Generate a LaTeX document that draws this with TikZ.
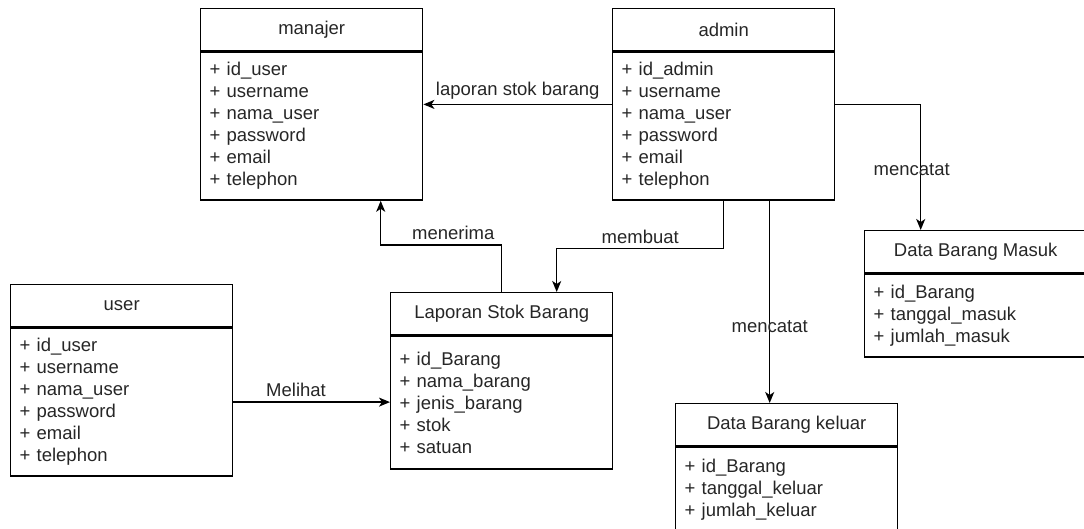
\documentclass[tikz,border=0pt]{standalone}
\usepackage{fontspec}
\setmainfont{Liberation Sans}
\usetikzlibrary{arrows.meta}

\tikzset{
  every node/.style={font=\fontsize{18.5}{22}\selectfont, text=black!85},
  classhead/.style={draw, line width=1.4pt, minimum width=222pt, minimum height=42pt, inner sep=0pt, anchor=north west},
  classbody/.style={draw, line width=1.4pt, text width=204pt, inner xsep=9pt, inner ysep=0pt, align=left, anchor=north west},
  link/.style={line width=1.4pt, -{Stealth[length=11pt,width=9pt,inset=3pt]}},
}

\begin{document}
\begin{tikzpicture}[x=1pt,y=-1pt]
  \useasboundingbox (0,0) rectangle (1084,529);
  \clip (0,0) rectangle (1084,529);

  % manajer and admin
  \node[classhead] (manajer) at (200,8) {manajer};
  \node[classbody, minimum height=148pt] (manajer-b) at (manajer.south west)
    {+ id\_user\\+ username\\+ nama\_user\\+ password\\+ email\\+ telephon};
  \node[classhead] (admin) at (612,8) {admin};
  \node[classbody, minimum height=148pt] (admin-b) at (admin.south west)
    {+ id\_admin\\+ username\\+ nama\_user\\+ password\\+ email\\+ telephon};

  % user and laporan
  \node[classhead] (user) at (10,284) {user};
  \node[classbody, minimum height=148pt] (user-b) at (user.south west)
    {+ id\_user\\+ username\\+ nama\_user\\+ password\\+ email\\+ telephon};
  \node[classhead] (laporan) at (390,292) {Laporan Stok Barang};
  \node[classbody, minimum height=133pt] (laporan-b) at (laporan.south west)
    {+ id\_Barang\\+ nama\_barang\\+ jenis\_barang\\+ stok\\+ satuan};

  % data barang
  \node[classhead] (keluar) at (675,403) {Data Barang keluar};
  \node[classbody, minimum height=86pt] (keluar-b) at (keluar.south west)
    {+ id\_Barang\\+ tanggal\_keluar\\+ jumlah\_keluar};
  \node[classhead] (masuk) at (864,230) {Data Barang Masuk};
  \node[classbody, minimum height=83pt] (masuk-b) at (masuk.south west)
    {+ id\_Barang\\+ tanggal\_masuk\\+ jumlah\_masuk};

  % draw connectors
  \draw[link] ([yshift=-53pt]admin-b.north west) -- ([yshift=-53pt]manajer-b.north east)
    node[midway, above=1pt] {laporan stok barang};
  \draw[link] (laporan.north) -- ++(0,-47) -| ([xshift=69pt]manajer-b.south)
    node[pos=0.2, above=1pt] {menerima};
  \draw[link] (admin-b.south) -- ++(0,48) -| ([xshift=55pt]laporan.north)
    node[pos=0.25, above=1pt] {membuat};
  \draw[link] ([xshift=46pt]admin-b.south) -- ([xshift=-17pt]keluar.north)
    node[pos=0.62] {mencatat};
  \draw[link] ([yshift=-53pt]admin-b.north east) -| ([xshift=-55pt]masuk.north)
    node[pos=0.76, xshift=-9pt] {mencatat};
  \draw[link] (user-b.east) -- (laporan-b.west |- user-b.east)
    node[pos=0.4, above=1pt] {Melihat};
\end{tikzpicture}
\end{document}
